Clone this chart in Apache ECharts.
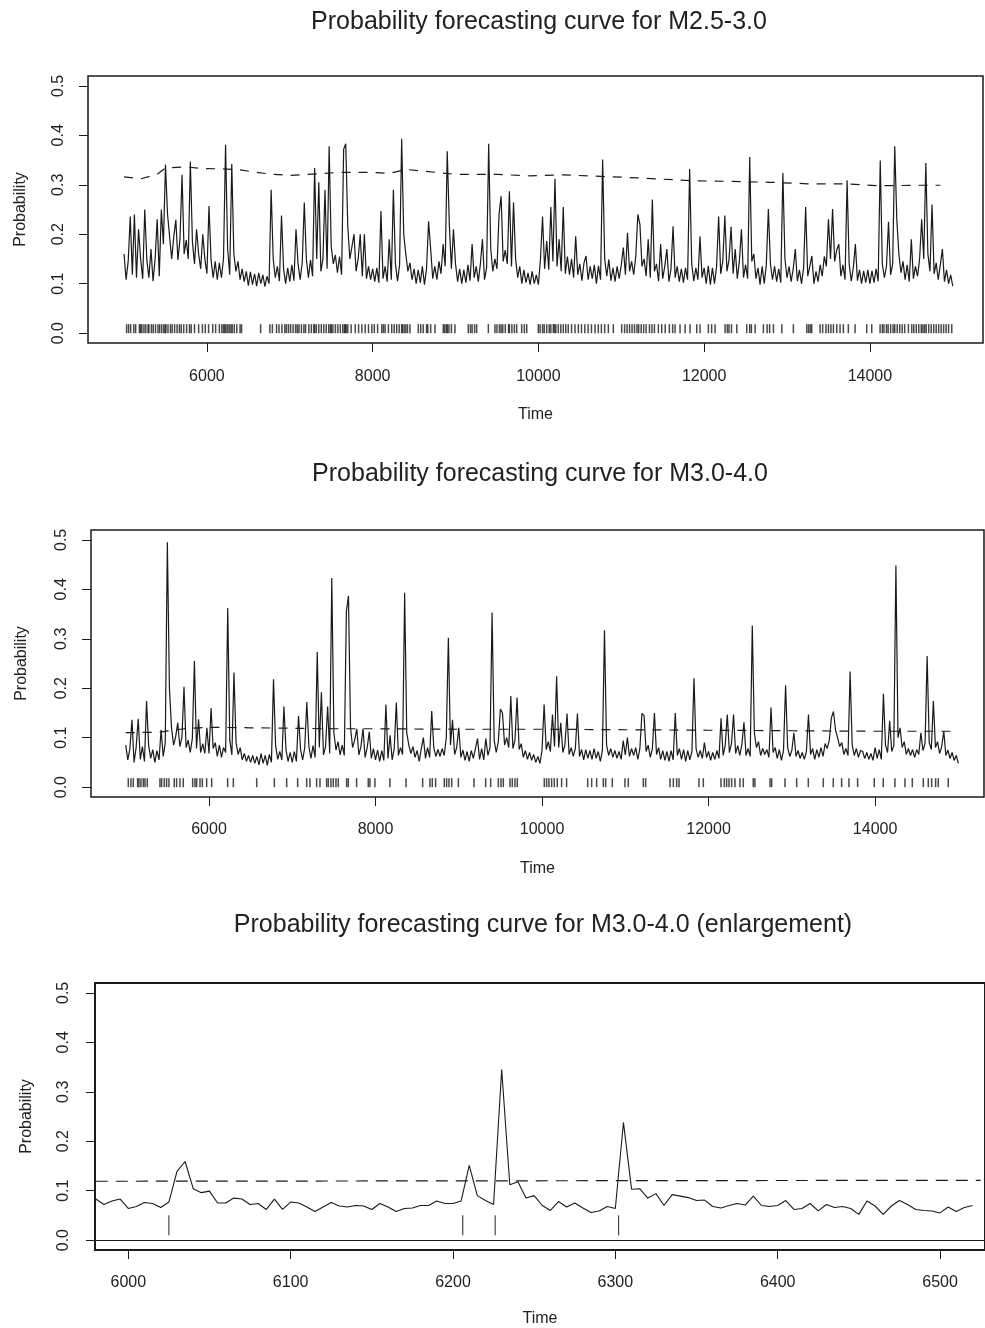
<!DOCTYPE html>
<html>
<head>
<meta charset="utf-8">
<script src="https://cdn.jsdelivr.net/npm/echarts@6/dist/echarts.min.js"></script>
<style>
html,body{margin:0;padding:0;background:#ffffff;}
#chart{width:985px;height:1328px;}
</style>
</head>
<body>
<div id="chart"></div>
<script>
// ---------------- data ----------------
const titleTexts = [
  'Probability forecasting curve for M2.5-3.0',
  'Probability forecasting curve for M3.0-4.0',
  'Probability forecasting curve for M3.0-4.0 (enlargement)'
];
const xTicksWide = [6000, 8000, 10000, 12000, 14000];
const xTicksZoom = [6000, 6100, 6200, 6300, 6400, 6500];
const yTicks = [0, 0.1, 0.2, 0.3, 0.4, 0.5];

// Panel 1 (M2.5-3.0): probability every 25 time units from 5000
const p1Start = 5000, p1Step = 25;
const p1Prob = [
0.160,0.108,0.145,0.236,0.118,0.240,0.112,0.210,0.150,0.110,0.250,0.148,0.112,0.170,0.105,0.150,0.230,0.115,0.250,0.180,
0.341,0.240,0.195,0.150,0.195,0.229,0.148,0.190,0.320,0.160,0.188,0.150,0.347,0.185,0.140,0.210,0.160,0.130,0.200,0.150,
0.120,0.257,0.148,0.112,0.145,0.108,0.142,0.112,0.150,0.381,0.170,0.118,0.342,0.160,0.125,0.145,0.108,0.130,0.104,0.125,
0.096,0.124,0.098,0.120,0.095,0.122,0.100,0.118,0.094,0.115,0.100,0.290,0.150,0.112,0.135,0.105,0.238,0.130,0.100,0.132,
0.104,0.138,0.106,0.210,0.140,0.108,0.142,0.264,0.150,0.112,0.148,0.115,0.334,0.150,0.305,0.125,0.150,0.290,0.130,0.378,
0.175,0.140,0.158,0.122,0.155,0.118,0.372,0.383,0.215,0.150,0.175,0.200,0.125,0.150,0.200,0.115,0.200,0.110,0.135,0.108,
0.130,0.104,0.132,0.102,0.247,0.110,0.135,0.104,0.190,0.108,0.290,0.140,0.105,0.138,0.393,0.200,0.160,0.125,0.142,0.108,
0.130,0.100,0.128,0.102,0.135,0.098,0.130,0.226,0.170,0.110,0.135,0.108,0.145,0.120,0.180,0.135,0.368,0.220,0.130,0.210,
0.140,0.104,0.130,0.100,0.128,0.102,0.138,0.106,0.180,0.112,0.135,0.104,0.140,0.190,0.108,0.132,0.383,0.170,0.125,0.150,
0.130,0.240,0.277,0.145,0.168,0.140,0.287,0.135,0.264,0.150,0.112,0.135,0.100,0.128,0.102,0.122,0.098,0.125,0.100,0.118,
0.098,0.150,0.236,0.130,0.186,0.128,0.255,0.145,0.312,0.135,0.190,0.125,0.255,0.120,0.155,0.118,0.150,0.112,0.196,0.118,
0.140,0.106,0.142,0.156,0.108,0.135,0.110,0.138,0.100,0.136,0.108,0.351,0.150,0.115,0.149,0.106,0.132,0.104,0.135,0.110,
0.138,0.173,0.118,0.203,0.125,0.145,0.118,0.155,0.240,0.220,0.135,0.150,0.115,0.190,0.112,0.270,0.125,0.140,0.105,0.180,
0.110,0.135,0.170,0.104,0.130,0.216,0.112,0.135,0.104,0.130,0.102,0.132,0.108,0.332,0.140,0.105,0.132,0.108,0.196,0.112,
0.132,0.100,0.136,0.098,0.132,0.100,0.135,0.236,0.120,0.145,0.238,0.125,0.148,0.215,0.120,0.170,0.110,0.145,0.210,0.112,
0.138,0.110,0.356,0.145,0.160,0.110,0.132,0.098,0.135,0.100,0.138,0.251,0.140,0.108,0.135,0.104,0.130,0.102,0.324,0.150,
0.112,0.135,0.104,0.130,0.170,0.105,0.128,0.100,0.132,0.255,0.115,0.135,0.156,0.100,0.125,0.104,0.138,0.115,0.155,0.135,
0.230,0.150,0.251,0.145,0.168,0.180,0.115,0.138,0.108,0.309,0.140,0.105,0.132,0.180,0.106,0.128,0.100,0.126,0.102,0.128,
0.100,0.126,0.102,0.130,0.105,0.349,0.140,0.112,0.135,0.225,0.118,0.140,0.378,0.230,0.160,0.122,0.145,0.108,0.138,0.104,
0.190,0.110,0.135,0.115,0.150,0.230,0.150,0.344,0.160,0.125,0.260,0.120,0.142,0.108,0.138,0.170,0.104,0.128,0.100,0.118,0.095
];
const p1MeanTime = [5000,5200,5400,5500,5750,5950,6200,6400,6600,6800,7000,7200,7400,7600,8000,8200,8400,8600,9000,9500,9900,10300,10750,11200,11650,11900,12300,12800,13250,13700,14100,14600,14850];
const p1Mean = [0.316,0.312,0.321,0.334,0.336,0.333,0.332,0.330,0.325,0.321,0.319,0.321,0.323,0.325,0.325,0.323,0.331,0.328,0.321,0.321,0.318,0.320,0.317,0.314,0.310,0.308,0.307,0.305,0.302,0.302,0.298,0.299,0.299];
const p1Events = [
5031,5055,5080,5118,5140,5185,5200,5215,5240,5262,5290,5300,5330,5352,5380,5410,5430,5455,5480,5495,5505,5530,5560,5580,5610,5640,5668,5690,5720,5755,5790,5810,5850,5900,5945,5980,6020,6070,6105,6150,6180,6200,6215,6230,6250,6270,6290,6305,6330,6360,6400,6418,
6648,
6760,6790,6840,6870,6905,6940,6960,6985,7010,7040,7070,7090,7110,7140,7170,7190,7230,7260,7290,7300,7320,7350,7380,7410,7440,7470,7490,7500,7520,7550,7580,7610,7640,7660,7670,7680,7700,7740,7790,7830,7870,7910,7950,7990,8020,8060,8110,8130,8150,8190,8230,8260,8290,8320,8350,8360,8380,8400,8420,8450,
8551,8580,8610,8650,8665,8700,8752,
8852,8870,8890,8900,8920,8950,8993,
9154,9180,9200,9230,9255,
9396,
9476,9500,9530,9550,9570,9600,9640,9650,9680,9710,9738,
9798,9830,9859,
9999,10020,10050,10070,10100,10130,10150,10180,10195,10210,10240,10270,10300,10330,10360,10400,10442,
10482,10520,10560,10600,10640,10683,
10723,10760,10800,10844,
10904,
11005,11040,11070,11100,11130,11160,11190,11210,11240,11270,11300,11340,11370,11400,11448,
11488,11530,11580,11620,11649,
11709,11770,11830,11911,11951,12051,12090,12132,12253,12280,12300,12330,12394,12514,12550,12570,12615,12715,12760,12790,12836,12937,13077,13238,13260,13280,13298,13399,13430,13470,13500,13530,13560,13600,13640,13680,13740,13821,13962,14022,14123,14150,14170,14200,14220,14250,14280,14300,14330,14360,14390,14420,14465,14505,14530,14560,14590,14620,14640,14660,14680,14710,14740,14770,14800,14830,14860,14890,14920,14950,14988
];

// Panel 2 (M3.0-4.0): probability every 25 time units from 5000
const p2Start = 5000, p2Step = 25;
const p2Prob = [
0.085,0.055,0.078,0.136,0.050,0.080,0.138,0.056,0.082,0.052,0.174,0.085,0.058,0.076,0.050,0.074,0.055,0.116,0.062,0.090,
0.495,0.200,0.120,0.085,0.102,0.130,0.082,0.100,0.203,0.080,0.095,0.070,0.098,0.255,0.078,0.137,0.070,0.088,0.068,0.120,
0.068,0.160,0.078,0.090,0.062,0.085,0.060,0.080,0.070,0.362,0.095,0.065,0.232,0.090,0.066,0.080,0.055,0.068,0.052,0.064,
0.050,0.064,0.048,0.062,0.045,0.068,0.048,0.064,0.044,0.066,0.050,0.218,0.085,0.056,0.072,0.055,0.163,0.075,0.052,0.070,
0.050,0.072,0.052,0.144,0.076,0.055,0.080,0.172,0.082,0.058,0.084,0.060,0.273,0.080,0.192,0.065,0.082,0.163,0.068,0.423,
0.110,0.075,0.092,0.065,0.085,0.064,0.355,0.387,0.120,0.080,0.095,0.118,0.065,0.082,0.118,0.060,0.080,0.112,0.058,0.078,
0.055,0.075,0.052,0.074,0.054,0.167,0.058,0.105,0.055,0.078,0.171,0.064,0.080,0.066,0.393,0.110,0.085,0.068,0.082,0.060,
0.074,0.052,0.078,0.100,0.058,0.080,0.060,0.154,0.080,0.062,0.076,0.062,0.078,0.064,0.100,0.302,0.085,0.136,0.066,0.080,
0.120,0.060,0.075,0.054,0.072,0.052,0.074,0.058,0.078,0.098,0.056,0.078,0.055,0.098,0.064,0.080,0.353,0.095,0.070,0.092,
0.158,0.150,0.085,0.100,0.080,0.184,0.078,0.095,0.181,0.076,0.088,0.060,0.074,0.056,0.070,0.054,0.066,0.050,0.062,0.048,
0.075,0.167,0.076,0.092,0.072,0.147,0.082,0.224,0.080,0.130,0.070,0.086,0.149,0.066,0.080,0.062,0.078,0.149,0.062,0.076,
0.055,0.076,0.058,0.074,0.056,0.078,0.058,0.072,0.052,0.074,0.317,0.085,0.064,0.078,0.060,0.074,0.058,0.072,0.056,0.094,
0.065,0.100,0.062,0.078,0.064,0.080,0.056,0.078,0.149,0.145,0.072,0.085,0.060,0.078,0.150,0.066,0.080,0.056,0.074,0.054,
0.072,0.052,0.074,0.055,0.150,0.064,0.078,0.056,0.076,0.052,0.074,0.055,0.072,0.220,0.078,0.060,0.074,0.058,0.090,0.060,
0.072,0.054,0.070,0.056,0.074,0.058,0.139,0.064,0.084,0.147,0.070,0.088,0.147,0.068,0.084,0.064,0.086,0.131,0.064,0.078,
0.062,0.327,0.110,0.080,0.092,0.064,0.078,0.066,0.076,0.060,0.161,0.070,0.080,0.058,0.076,0.054,0.074,0.206,0.080,0.062,
0.074,0.110,0.062,0.074,0.058,0.070,0.056,0.072,0.147,0.066,0.078,0.056,0.076,0.060,0.080,0.062,0.088,0.078,0.095,0.140,
0.153,0.115,0.100,0.082,0.090,0.066,0.078,0.064,0.234,0.085,0.064,0.078,0.060,0.074,0.072,0.058,0.070,0.056,0.068,0.054,
0.080,0.058,0.076,0.056,0.189,0.085,0.070,0.134,0.072,0.084,0.448,0.100,0.120,0.080,0.092,0.066,0.078,0.064,0.076,0.060,
0.076,0.066,0.110,0.074,0.088,0.265,0.090,0.076,0.174,0.080,0.092,0.068,0.082,0.113,0.064,0.075,0.058,0.070,0.054,0.064,0.048
];
const p2MeanTime = [5000,5400,5700,6000,6500,7000,7500,8000,9000,10000,11000,12000,13000,14000,14950];
const p2Mean = [0.110,0.111,0.118,0.121,0.120,0.119,0.118,0.118,0.117,0.117,0.116,0.115,0.114,0.113,0.113];
const p2Events = [
5031,5063,5091,5143,5159,5183,5211,5231,5259,5411,5431,5463,5491,5519,5583,5611,5651,5691,5804,5832,5852,5892,5920,5972,6032,6224,6293,6573,6785,6933,7065,7173,7213,7293,7333,7413,7433,7465,7493,7525,7553,7653,7673,7773,7913,7933,7993,8173,8366,8566,8654,8682,8722,8826,8854,8882,8915,8995,9183,9323,9383,9475,9507,9535,9615,9643,9675,9703,10027,10055,10083,10115,10147,10183,10235,10295,10548,10596,10656,10736,10764,10844,10996,11036,11216,11244,11537,11577,11617,11645,11885,11937,12149,12189,12217,12245,12277,12317,12377,12417,12537,12557,12738,12758,12918,13058,13198,13378,13498,13598,13686,13790,13990,14098,14238,14359,14447,14579,14639,14679,14727,14759,14879
];

// Panel 3 (enlargement): probability every 5 time units from 5980
const p3Start = 5980, p3Step = 5;
const p3Prob = [
0.083,0.072,0.079,0.083,0.064,0.068,0.076,0.074,0.066,0.077,0.139,0.159,0.104,0.096,0.099,0.075,0.075,0.085,0.083,0.072,
0.074,0.062,0.083,0.062,0.077,0.075,0.067,0.058,0.067,0.076,0.069,0.067,0.070,0.069,0.062,0.074,0.067,0.058,0.064,0.065,
0.070,0.070,0.079,0.074,0.074,0.079,0.151,0.090,0.080,0.072,0.345,0.112,0.118,0.085,0.090,0.070,0.060,0.078,0.067,0.075,
0.065,0.056,0.059,0.068,0.064,0.238,0.103,0.104,0.085,0.094,0.070,0.092,0.089,0.086,0.080,0.081,0.068,0.065,0.070,0.074,
0.071,0.089,0.070,0.068,0.070,0.080,0.062,0.064,0.074,0.059,0.072,0.066,0.068,0.064,0.052,0.079,0.069,0.052,0.069,0.080,
0.072,0.062,0.060,0.059,0.055,0.067,0.058,0.066,0.070
];
const p3MeanTime = [5980, 6525];
const p3Mean = [0.119, 0.121];
const p3Events = [6025, 6206, 6226, 6302];

// ---------------- chart ----------------
const FONT = '"Liberation Sans", Arial, Helvetica, sans-serif';
const INK = '#1a1a1a';
const TXT = '#222222';

function series(start, step, vals) { return vals.map((v, i) => [start + i * step, v]); }
function pairs(ts, vs) { return ts.map((t, i) => [t, vs[i]]); }
function rug(ts, y) { return ts.map(t => [t, y]); }

const grids = [
  {left: 88, top: 76, width: 895, height: 267},
  {left: 91, top: 530, width: 893, height: 267},
  {left: 95, top: 983, width: 910, height: 268}
];

function xAxis(gi, min, max, ticks, margin, nameGap) {
  return {
    type: 'value', gridIndex: gi, min: min, max: max, position: 'bottom',
    axisLine: {show: false, onZero: false},
    axisTick: {show: true, inside: false, length: 9, customValues: ticks, lineStyle: {color: INK, width: 1}},
    axisLabel: {customValues: ticks, fontSize: 16, color: TXT, fontFamily: FONT, margin: margin,
      formatter: v => String(v)},
    splitLine: {show: false},
    name: 'Time', nameLocation: 'middle', nameGap: nameGap,
    nameTextStyle: {fontSize: 16, color: TXT, fontFamily: FONT}
  };
}
function yAxis(gi, margin, nameGap) {
  return {
    type: 'value', gridIndex: gi, min: -0.02, max: 0.52, position: 'left',
    axisLine: {show: false, onZero: false},
    axisTick: {show: true, inside: false, length: 9, customValues: yTicks, lineStyle: {color: INK, width: 1}},
    axisLabel: {customValues: yTicks, rotate: 90, margin: margin, fontSize: 16, color: TXT, fontFamily: FONT,
      formatter: v => Number(v).toFixed(1)},
    splitLine: {show: false},
    name: 'Probability', nameLocation: 'middle', nameGap: nameGap,
    nameTextStyle: {fontSize: 16, color: TXT, fontFamily: FONT}
  };
}
function probLine(gi, data, w) {
  return {type: 'line', xAxisIndex: gi, yAxisIndex: gi, data: data, symbol: 'none', showSymbol: false,
    silent: true, animation: false, lineStyle: {color: INK, width: w}};
}
function meanLine(gi, data, dash) {
  return {type: 'line', xAxisIndex: gi, yAxisIndex: gi, data: data, symbol: 'none', showSymbol: false,
    silent: true, animation: false, lineStyle: {color: INK, width: 1.2, type: dash}};
}
function rugSeries(gi, data, w, h) {
  return {type: 'scatter', xAxisIndex: gi, yAxisIndex: gi, data: data, symbol: 'rect', symbolSize: [w, h],
    silent: true, animation: false, itemStyle: {color: INK}};
}

const option = {
  backgroundColor: '#ffffff',
  animation: false,
  title: [
    {text: titleTexts[0], left: 539, top: 10, textAlign: 'center', padding: 0,
     textStyle: {fontSize: 25, fontWeight: 'normal', color: TXT, fontFamily: FONT}},
    {text: titleTexts[1], left: 540, top: 462, textAlign: 'center', padding: 0,
     textStyle: {fontSize: 25, fontWeight: 'normal', color: TXT, fontFamily: FONT}},
    {text: titleTexts[2], left: 543, top: 913, textAlign: 'center', padding: 0,
     textStyle: {fontSize: 25, fontWeight: 'normal', color: TXT, fontFamily: FONT}}
  ],
  grid: grids.map((g, i) => Object.assign({show: true, borderColor: INK, borderWidth: i === 2 ? 2 : 1.5,
    backgroundColor: 'transparent', containLabel: false}, g)),
  xAxis: [
    xAxis(0, 4565, 15365, xTicksWide, 26, 64),
    xAxis(1, 4583, 15308, xTicksWide, 25, 64),
    xAxis(2, 5979.5, 6527.7, xTicksZoom, 25, 61)
  ],
  yAxis: [
    yAxis(0, 21, 59),
    yAxis(1, 21, 61),
    yAxis(2, 23, 60)
  ],
  series: [
    probLine(0, series(p1Start, p1Step, p1Prob), 1.2),
    meanLine(0, pairs(p1MeanTime, p1Mean), [9, 8]),
    rugSeries(0, rug(p1Events, 0.009), 1.5, 9),
    probLine(1, series(p2Start, p2Step, p2Prob), 1.2),
    meanLine(1, pairs(p2MeanTime, p2Mean), [9, 8]),
    rugSeries(1, rug(p2Events, 0.009), 1.5, 9),
    Object.assign(probLine(2, series(p3Start, p3Step, p3Prob), 1.1), {
      markLine: {silent: true, symbol: 'none', label: {show: false}, animation: false,
        lineStyle: {type: 'solid', color: INK, width: 1.2}, data: [{yAxis: 0}]}
    }),
    meanLine(2, pairs(p3MeanTime, p3Mean), [12, 8]),
    rugSeries(2, rug(p3Events, 0.03), 1.2, 20)
  ]
};

const chart = echarts.init(document.getElementById('chart'), null, {renderer: 'canvas'});
chart.setOption(option);
</script>
</body>
</html>
